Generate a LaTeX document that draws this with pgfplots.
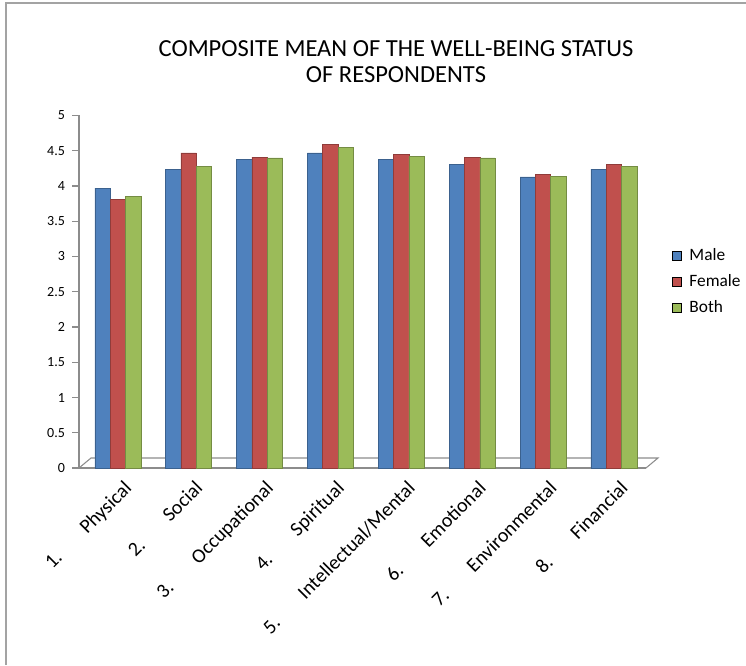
\documentclass[border=0pt]{standalone}
\usepackage{pgfplots}
\pgfplotsset{compat=1.18}
\usepackage{fontspec}
\setmainfont{Carlito}
\definecolor{cM}{HTML}{4F81BD}
\definecolor{cF}{HTML}{C0504D}
\definecolor{cB}{HTML}{9BBB59}
\definecolor{axgray}{HTML}{8C8C8C}
\begin{document}
\begin{tikzpicture}
\useasboundingbox (0,0) rectangle (559.5pt,498.75pt);
\draw[axgray!80, line width=1pt] (4.5pt,0) -- (4.5pt,496.5pt) -- (559.5pt,496.5pt);
\node[align=center, font=\fontsize{18.4}{19.5}\selectfont, inner sep=0pt] at (297pt,452.25pt)
  {COMPOSITE MEAN OF THE WELL-BEING STATUS\\OF RESPONDENTS};
\begin{axis}[
  at={(59.25pt,147.75pt)}, anchor=south west,
  scale only axis, width=425.25pt, height=264.4pt,
  xmin=0.5, xmax=8.5, ymin=0, ymax=5,
  ytick={0,0.5,...,5},
  yticklabels={0,0.5,1,1.5,2,2.5,3,3.5,4,4.5,5},
  xtick={1,...,8},
  xticklabels={1.\hspace{1.7em}Physical, 2.\hspace{1.7em}Social, 3.\hspace{1.7em}Occupational, 4.\hspace{1.7em}Spiritual, 5.\hspace{1.7em}Intellectual/Mental, 6.\hspace{1.7em}Emotional, 7.\hspace{1.7em}Environmental, 8.\hspace{1.7em}Financial},
  x tick label style={rotate=45, anchor=north east, font=\fontsize{15}{16}\selectfont, inner sep=1pt, yshift=-6pt, xshift=3pt},
  major x tick style={draw=none},
  extra x ticks={0.5,1.5,...,8.5},
  extra x tick labels={},
  extra x tick style={tick style={draw=axgray, thick}, major tick length=5pt},
  y tick label style={font=\fontsize{10.5}{12}\selectfont, xshift=-2pt},
  /pgf/number format/assume math mode=true,
  axis x line*=bottom, axis y line*=left,
  axis line style={draw=axgray, thick},
  y tick style={draw=axgray, thick},
  tick align=outside, major tick length=5pt,
  bar width=11.5pt,
  legend style={at={(1,0.528)}, anchor=west, xshift=19pt, draw=none, fill=none,
    font=\fontsize{13}{15}\selectfont, row sep=5pt, inner sep=0pt},
  legend cell align=left,
  legend image code/.code={\fill[#1] (0pt,-3.4pt) rectangle (6.8pt,3.4pt); \path (11pt,0pt);},
  clip=false,
]
\draw[axgray, thick] (axis cs:0.5,0) -- ([xshift=9pt,yshift=7.5pt]axis cs:0.5,0) -- ([xshift=9pt,yshift=7.5pt]axis cs:8.5,0) -- (axis cs:8.5,0);
\addplot[ybar, bar shift=-9pt, forget plot, draw=cM!75!black, fill=cM] coordinates {(1,3.97) (2,4.24) (3,4.38) (4,4.47) (5,4.38) (6,4.31) (7,4.13) (8,4.24)};
\addplot[ybar, bar shift=2.5pt, forget plot, draw=cF!75!black, fill=cF] coordinates {(1,3.81) (2,4.47) (3,4.41) (4,4.59) (5,4.45) (6,4.41) (7,4.16) (8,4.31)};
\addplot[ybar, bar shift=14pt, forget plot, draw=cB!75!black, fill=cB] coordinates {(1,3.85) (2,4.28) (3,4.40) (4,4.55) (5,4.42) (6,4.40) (7,4.14) (8,4.28)};
\addlegendimage{fill=cM}
\addlegendentry{Male}
\addlegendimage{fill=cF}
\addlegendentry{Female}
\addlegendimage{fill=cB}
\addlegendentry{Both}
\end{axis}
\end{tikzpicture}
\end{document}
